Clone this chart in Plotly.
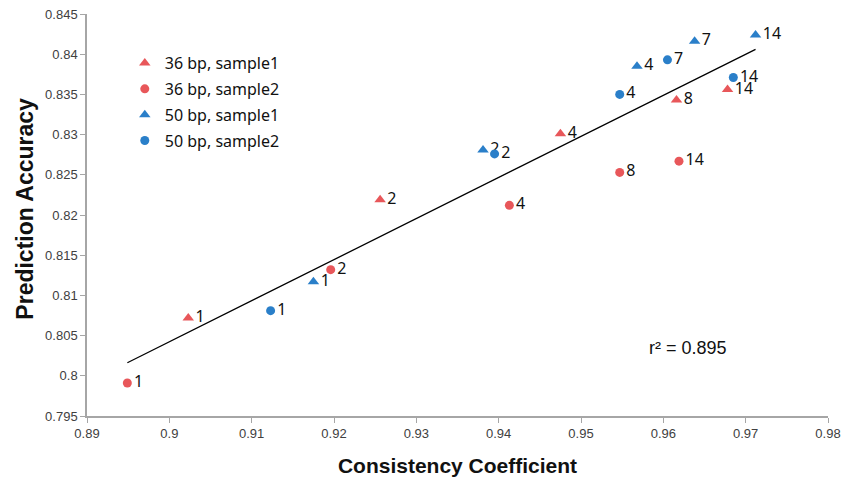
import numpy as np
import plotly.graph_objects as go

# ---- data ----
labels_36_s1 = ["1", "2", "4", "8", "14"]
x_36_s1 = [0.9023, 0.9256, 0.9475, 0.9616, 0.9678]
y_36_s1 = [0.8072, 0.8219, 0.8301, 0.8343, 0.8356]

labels_36_s2 = ["1", "2", "4", "8", "14"]
x_36_s2 = [0.8949, 0.9196, 0.9413, 0.9547, 0.9619]
y_36_s2 = [0.7991, 0.8132, 0.8212, 0.8253, 0.8267]

labels_50_s1 = ["1", "2", "4", "7", "14"]
x_50_s1 = [0.9175, 0.9381, 0.9568, 0.9638, 0.9712]
y_50_s1 = [0.8117, 0.8281, 0.8385, 0.8416, 0.8424]

labels_50_s2 = ["1", "2", "4", "7", "14"]
x_50_s2 = [0.9123, 0.9395, 0.9547, 0.9605, 0.9685]
y_50_s2 = [0.8081, 0.8276, 0.8350, 0.8393, 0.8371]

x_ticks = [0.89, 0.9, 0.91, 0.92, 0.93, 0.94, 0.95, 0.96, 0.97, 0.98]
x_tick_text = ["0.89", "0.9", "0.91", "0.92", "0.93", "0.94", "0.95", "0.96", "0.97", "0.98"]
y_ticks = [0.795, 0.8, 0.805, 0.81, 0.815, 0.82, 0.825, 0.83, 0.835, 0.84, 0.845]
y_tick_text = ["0.795", "0.8", "0.805", "0.81", "0.815", "0.82", "0.825", "0.83", "0.835", "0.84", "0.845"]

r2_text = "r² = 0.895"

RED = "#E8575A"
BLUE = "#2A7FC9"

series = [
    ("36 bp, sample1", x_36_s1, y_36_s1, labels_36_s1, "triangle-up", RED, 10),
    ("36 bp, sample2", x_36_s2, y_36_s2, labels_36_s2, "circle", RED, 9),
    ("50 bp, sample1", x_50_s1, y_50_s1, labels_50_s1, "triangle-up", BLUE, 10),
    ("50 bp, sample2", x_50_s2, y_50_s2, labels_50_s2, "circle", BLUE, 9),
]

fig = go.Figure()

# linear trendline over all points
all_x = np.array(x_36_s1 + x_36_s2 + x_50_s1 + x_50_s2)
all_y = np.array(y_36_s1 + y_36_s2 + y_50_s1 + y_50_s2)
slope, intercept = np.polyfit(all_x, all_y, 1)
lx = np.array([all_x.min(), all_x.max()])
fig.add_trace(go.Scatter(x=lx, y=slope * lx + intercept, mode="lines",
                         line=dict(color="black", width=1.3),
                         showlegend=False, hoverinfo="skip"))

for i, (name, xs, ys, labs, sym, col, sz) in enumerate(series):
    fig.add_trace(go.Scatter(
        x=xs, y=ys, mode="markers+text", name=name,
        text=labs, textposition="middle right",
        textfont=dict(family="Noto Sans, Arial", size=16, color="#111111"),
        marker=dict(symbol=sym, color=col, size=sz, line=dict(width=0)),
        legendgroup=f"g{i}",
    ))

fig.add_annotation(x=0.963, y=0.8035, text=r2_text, showarrow=False,
                   font=dict(family="Arial", size=18, color="#111111"))

# y-axis title as rotated annotation (slightly above plot centre, as in reference)
fig.add_annotation(xref="paper", yref="paper", x=-0.083, y=0.517,
                   xanchor="center", yanchor="middle", textangle=-90,
                   text="<b>Prediction Accuracy</b>", showarrow=False,
                   font=dict(family="Arial", size=23, color="#111111"))

axis_common = dict(
    showgrid=False, zeroline=False, showline=True, linecolor="#A6A6A6",
    linewidth=1.5, ticks="outside", ticklen=5, tickcolor="#A6A6A6",
    tickfont=dict(family="Arial", size=13, color="#404040"),
    automargin=False, ticklabeloverflow="allow",
)

fig.update_xaxes(range=[0.89, 0.98], tickvals=x_ticks, ticktext=x_tick_text,
                 title=dict(text="<b>Consistency Coefficient</b>",
                            font=dict(family="Arial", size=21, color="#111111"),
                            standoff=18),
                 **axis_common)
fig.update_yaxes(range=[0.795, 0.845], tickvals=y_ticks, ticktext=y_tick_text,
                 **axis_common)

fig.update_layout(
    width=841, height=480,
    margin=dict(l=87, r=13, t=14, b=64),
    plot_bgcolor="white", paper_bgcolor="white",
    showlegend=True,
    legend=dict(x=0.051, y=0.92, xanchor="left", yanchor="top",
                font=dict(family="Noto Sans, Arial", size=16, color="#111111"),
                bgcolor="rgba(0,0,0,0)", tracegroupgap=2, itemsizing="trace"),
)

# remove the default 8px page margin so the figure sits at the window origin
fig.write_html("out.html",
               config={"displayModeBar": False},
               post_script="document.body.style.margin='0';document.body.style.padding='0';")
